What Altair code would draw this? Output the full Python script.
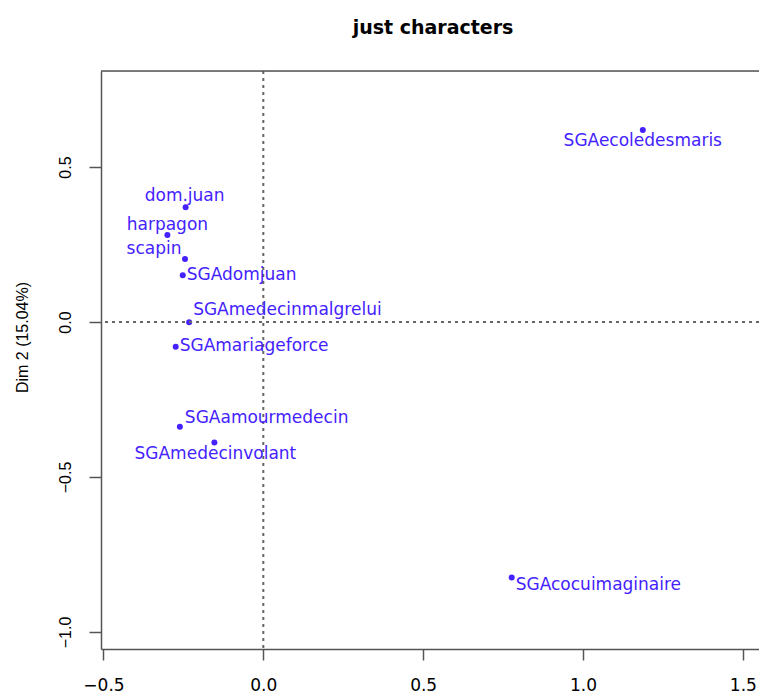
import altair as alt
import pandas as pd

# Correspondence-analysis map: characters and plays on dimensions 1 and 2
names = [
    "dom.juan", "harpagon", "scapin", "SGAdomjuan", "SGAmedecinmalgrelui",
    "SGAmariageforce", "SGAamourmedecin", "SGAmedecinvolant",
    "SGAecoledesmaris", "SGAcocuimaginaire",
]
dim1 = [-0.243, -0.300, -0.245, -0.252, -0.232, -0.274, -0.261, -0.153, 1.187, 0.777]
dim2 = [0.370, 0.281, 0.203, 0.151, -0.001, -0.080, -0.338, -0.389, 0.619, -0.824]

x_ticks = [-0.5, 0.0, 0.5, 1.0, 1.5]
y_ticks = [-1.0, -0.5, 0.0, 0.5]

# where each label sits relative to its point: (align, dx, dy) in pixels
label_nudge = {
    "dom.juan": ("center", -1, -11),
    "harpagon": ("center", 0, -10),
    "scapin": ("center", -31, -10),
    "SGAdomjuan": ("left", 4, 0),
    "SGAmedecinmalgrelui": ("left", 4, -12),
    "SGAmariageforce": ("left", 4, -1),
    "SGAamourmedecin": ("left", 5, -9),
    "SGAmedecinvolant": ("center", 1, 11),
    "SGAecoledesmaris": ("center", 0, 11),
    "SGAcocuimaginaire": ("left", 4, 8),
}

BLUE = "#4422ff"
FRAME = "#555555"
W, H = 658, 578
XDOM = [-0.5077, 1.5505]
YDOM = [-1.0548, 0.8097]

df = pd.DataFrame({"name": names, "dim1": dim1, "dim2": dim2})

x_enc = alt.X(
    "dim1:Q",
    scale=alt.Scale(domain=XDOM, nice=False, zero=False),
    axis=alt.Axis(
        values=x_ticks, format=".1f", title=None, grid=False,
        tickSize=11, tickColor=FRAME, tickWidth=1.5,
        domainColor=FRAME, domainWidth=1.5,
        labelFont="DejaVu Sans", labelFontSize=17, labelColor="black",
        labelPadding=17, labelFlush=False, labelOverlap=False,
    ),
)
y_enc = alt.Y(
    "dim2:Q",
    scale=alt.Scale(domain=YDOM, nice=False, zero=False),
    axis=alt.Axis(
        values=y_ticks, format=".1f", title="Dim 2 (15.04%)", grid=False,
        tickSize=12, tickColor=FRAME, tickWidth=1.5,
        domainColor=FRAME, domainWidth=1.5,
        labelFont="Liberation Sans", labelFontSize=16, labelColor="black",
        labelAngle=270, labelAlign="center", labelBaseline="bottom",
        labelPadding=16, labelFlush=False, labelOverlap=False,
        titleFont="Liberation Sans", titleFontSize=16, titleFontWeight="normal",
        titleColor="black", titleAngle=270, titleAlign="center",
        titleBaseline="middle", titleX=-79, titleY=266,
    ),
)

base = alt.Chart(df)

# dotted reference lines through the origin
vline = alt.Chart(pd.DataFrame({"v": [0.0]})).mark_rule(
    color="#666666", strokeWidth=2, strokeDash=[3, 4]
).encode(x=alt.X("v:Q"))
hline = alt.Chart(pd.DataFrame({"v": [0.0]})).mark_rule(
    color="#666666", strokeWidth=2, strokeDash=[3, 4]
).encode(y=alt.Y("v:Q"))

# top edge of the frame
top_edge = alt.Chart(pd.DataFrame({"v": [0]})).mark_rule(
    color=FRAME, strokeWidth=1.5
).encode(x=alt.value(0), x2=alt.value(W), y=alt.value(0))

points = base.mark_circle(size=36, color=BLUE, opacity=1).encode(x=x_enc, y=y_enc)

labels = []
for n in names:
    align, dx, dy = label_nudge[n]
    labels.append(
        base.transform_filter(alt.datum.name == n)
        .mark_text(
            align=align, baseline="middle", dx=dx, dy=dy,
            font="DejaVu Sans", fontSize=17, color=BLUE,
        )
        .encode(x="dim1:Q", y="dim2:Q", text="name:N")
    )

chart = (
    alt.layer(points, vline, hline, top_edge, *labels)
    .properties(
        width=W,
        height=H,
        title=alt.TitleParams(
            "just characters", font="DejaVu Sans", fontSize=19,
            fontWeight="bold", color="black", anchor="middle",
            baseline="middle", offset=23, dx=3,
        ),
        padding={"left": 101, "top": 71, "right": 0, "bottom": 44},
        autosize="none",
    )
    .configure_view(stroke=None)
    .configure(background="white")
)

chart.save("out.html", embed_options={"renderer": "svg", "actions": False})
